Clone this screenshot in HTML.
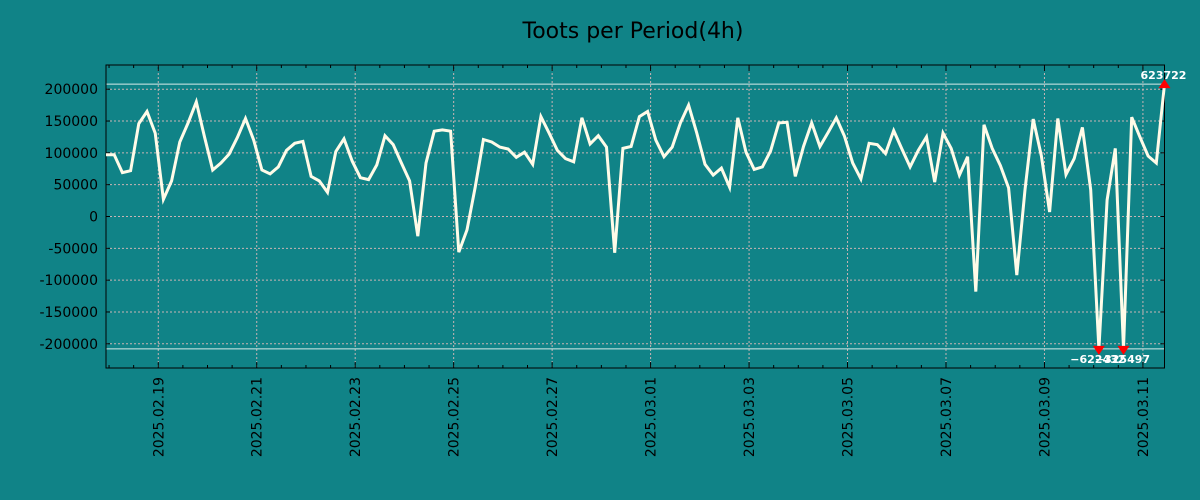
<!DOCTYPE html>
<html><head><meta charset="utf-8">
<style>
html,body{margin:0;padding:0;background:#108387;}
svg{display:block;font-family:"DejaVu Sans","Liberation Sans",sans-serif;}
</style></head>
<body>
<svg id="chart" width="1200" height="500" viewBox="0 0 1200 500">
<rect x="0" y="0" width="1200" height="500" fill="#108387"/>
<text x="633" y="38" font-size="22" text-anchor="middle" fill="#000">Toots per Period(4h)</text>
<g id="grid"></g><g id="axes"></g><g id="series"></g><g id="marks"></g>
</svg>
<script>
const tickLabels = ["2025.02.19","2025.02.21","2025.02.23","2025.02.25","2025.02.27","2025.03.01","2025.03.03","2025.03.05","2025.03.07","2025.03.09","2025.03.11"];
const yTicks = [200000,150000,100000,50000,0,-50000,-100000,-150000,-200000];
const clipValue = 208000;
const values = [97000,97000,69000,72000,146000,165000,131000,27000,56000,117000,147000,180000,125000,73000,84000,98000,124000,154000,120000,73000,67000,78000,104000,115000,118000,63000,56000,38000,102000,122000,87000,61000,58000,81000,127000,113000,84000,56000,-31000,84000,134000,136000,134000,-56000,-21000,46000,121000,117000,109000,106000,93000,101000,82000,157000,131000,104000,91000,86000,155000,114000,127000,109000,-57000,107000,110000,157000,165000,120000,94000,109000,147000,175000,131000,82000,65000,76000,46000,155000,101000,74000,78000,103000,147000,148000,63000,110000,147000,110000,132000,155000,126000,84000,59000,115000,113000,99000,135000,106000,78000,104000,125000,54000,131000,107000,65000,94000,-118000,144000,107000,80000,45000,-92000,42000,153000,95000,7000,154000,66000,91000,140000,42000,-622432,26000,107000,-325497,156000,125000,95000,84000,623722];
</script>
<script>
const NS="http://www.w3.org/2000/svg";
const L=106,R=1164.5,T=65,B=368;
const n=values.length;
function xs(i){return L+(R-L)*i/(n-1);}
function ys(v){return 216.5-v*127.3/200000;}
const tickIdx0=6.37, tickStep=12.0;  // index of first major tick, ticks every 2 days (12 periods)
function mk(tag,attrs,parent){const e=document.createElementNS(NS,tag);for(const k in attrs)e.setAttribute(k,attrs[k]);parent.appendChild(e);return e;}
const grid=document.getElementById('grid'),axes=document.getElementById('axes'),series=document.getElementById('series'),marks=document.getElementById('marks');

yTicks.forEach((v)=>{
  const y=ys(v);
  const g=mk('line',{x1:L,x2:R,y1:y,y2:y,stroke:'#c8b4b4','stroke-width':1,'stroke-dasharray':'2,2'},grid);
  
  
  const t=mk('line',{x1:L,x2:L+4,y1:y,y2:y,stroke:'#000','stroke-width':1},axes);
  
  
  const t2=mk('line',{x1:R-4,x2:R,y1:y,y2:y,stroke:'#000','stroke-width':1},axes);
  
  
  const lb=mk('text',{x:98,y:y+5,'font-size':14,'text-anchor':'end',fill:'#000'},axes);
  lb.textContent=String(v);
  
  
});
tickLabels.forEach((s,k)=>{
  const x=xs(tickIdx0+k*tickStep);
  const g=mk('line',{x1:x,x2:x,y1:T,y2:B,stroke:'#c8b4b4','stroke-width':1,'stroke-dasharray':'2,2'},grid);
  
  
  const lb=mk('text',{x:0,y:0,'font-size':14,'text-anchor':'end',fill:'#000',transform:`translate(${x+5},377) rotate(-90)`},axes);
  lb.textContent=s;
  
  
});
for(let m=-2;m<50;m++){
  const idx=tickIdx0+m*3;
  if(idx<0||idx>n-1)continue;
  const x=xs(idx);const len=(m%4===0)?6:3;
  const a=mk('line',{x1:x,x2:x,y1:B,y2:B-len,stroke:'#000','stroke-width':1},axes);
  
  
  const b=mk('line',{x1:x,x2:x,y1:T,y2:T+len,stroke:'#000','stroke-width':1},axes);
  
  
}
const fr=mk('rect',{x:L,y:T,width:R-L,height:B-T,fill:'none',stroke:'#000','stroke-width':1},axes);


[clipValue,-clipValue].forEach(v=>{
  const c=mk('line',{x1:L,x2:R,y1:ys(v),y2:ys(v),stroke:'#d8ece8','stroke-width':1},grid);
  
  
});
const clipped=values.map(v=>Math.max(-clipValue,Math.min(clipValue,v)));
const pts=clipped.map((v,i)=>xs(i).toFixed(1)+','+ys(v).toFixed(1)).join(' ');
const pl=mk('polyline',{points:pts,fill:'none',stroke:'#fffbe8','stroke-width':3,'stroke-linejoin':'miter'},series);


values.forEach((v,i)=>{
  if(Math.abs(v)<=clipValue)return;
  const x=xs(i),y=ys(clipped[i]);
  const up=v>0;
  const tri=mk('polygon',{points:up?`${x-6},${y+4} ${x+6},${y+4} ${x},${y-5}`:`${x-6},${y-3} ${x+6},${y-3} ${x},${y+6}`,fill:'#ff0000'},marks);
  
  
  const lb=mk('text',{x:x-1,y:up?y-5:y+14,'font-size':11,'font-weight':'bold','text-anchor':'middle',fill:'#fff'},marks);
  lb.textContent=String(v).replace('-','\u2212');
  
  
});
</script>
</body></html>
